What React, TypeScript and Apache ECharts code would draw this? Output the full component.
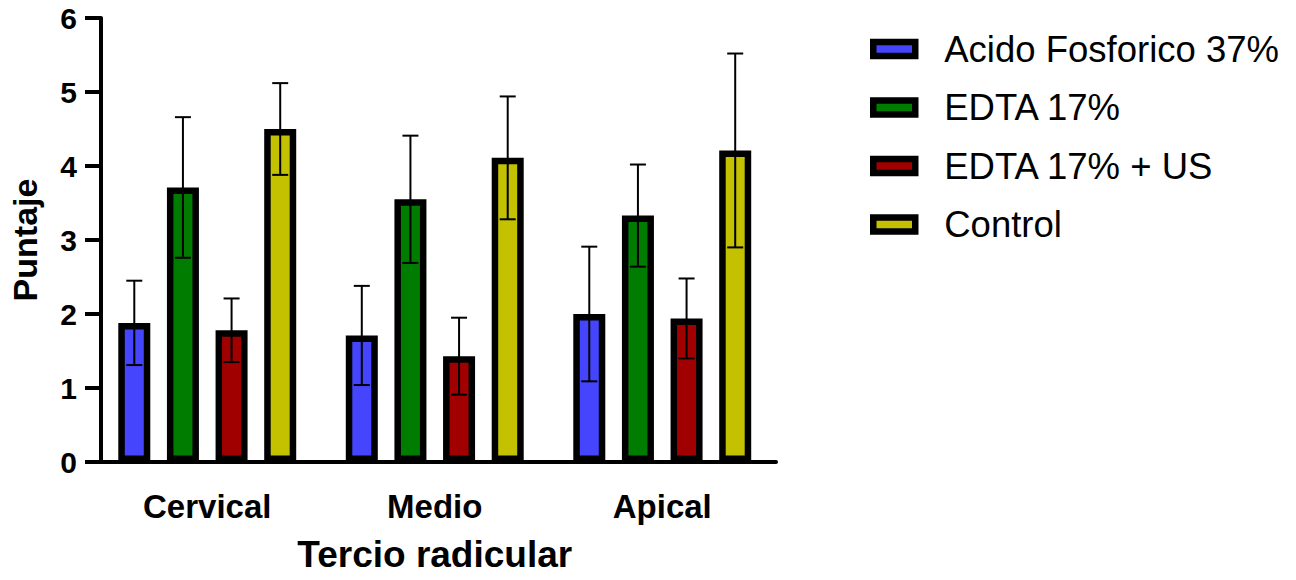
import React, { useEffect, useRef } from "react";
import * as echarts from "echarts";

const CATEGORIES = ["Cervical", "Medio", "Apical"];
const SERIES_NAMES = ["Acido Fosforico 37%", "EDTA 17%", "EDTA 17% + US", "Control"];
const COLORS = ["#4545fe", "#007c00", "#a00000", "#c3c100"];

const ACIDO_MEAN = [1.88, 1.71, 2.0];
const ACIDO_SD = [0.57, 0.67, 0.91];
const EDTA_MEAN = [3.71, 3.55, 3.33];
const EDTA_SD = [0.95, 0.86, 0.69];
const EDTA_US_MEAN = [1.78, 1.43, 1.94];
const EDTA_US_SD = [0.43, 0.52, 0.54];
const CONTROL_MEAN = [4.5, 4.11, 4.21];
const CONTROL_SD = [0.62, 0.83, 1.31];

const MEANS = [ACIDO_MEAN, EDTA_MEAN, EDTA_US_MEAN, CONTROL_MEAN];
const SDS = [ACIDO_SD, EDTA_SD, EDTA_US_SD, CONTROL_SD];

const Y_MIN = 0;
const Y_MAX = 6;
const Y_INTERVAL = 1;

const FONT = '"Liberation Sans", Arial, sans-serif';
const BAR_WIDTH = 32;
const BAR_GAP = 0.52;
const LEGEND_CENTERS = [49, 107.5, 166, 224.5];

export default function App() {
  const ref = useRef<HTMLDivElement>(null);

  useEffect(() => {
    if (!ref.current) return;
    const chart = echarts.init(ref.current, undefined, { renderer: "svg" });

    const barSeries = SERIES_NAMES.map((name, i) => ({
      name,
      type: "bar",
      data: MEANS[i],
      barWidth: BAR_WIDTH,
      barGap: BAR_GAP * 100 + "%",
      itemStyle: { color: COLORS[i], borderColor: "#000", borderWidth: 6.5 },
      z: 2,
    }));

    const errSeries = SERIES_NAMES.map((name, i) => ({
      name: name + " SD",
      type: "custom",
      z: 5,
      data: MEANS[i].map((m, c) => [c, m, SDS[i][c]]),
      encode: { x: 0, y: 1 },
      renderItem: (params: any, api: any) => {
        const c = api.value(0);
        const m = api.value(1);
        const s = api.value(2);
        const hi = api.coord([c, m + s]);
        const lo = api.coord([c, m - s]);
        const off = (i - 1.5) * BAR_WIDTH * (1 + BAR_GAP);
        const x = hi[0] + off;
        const st = { stroke: "#000", lineWidth: 2 };
        return {
          type: "group",
          children: [
            { type: "line", shape: { x1: x, y1: hi[1], x2: x, y2: lo[1] }, style: st },
            { type: "line", shape: { x1: x - 8, y1: hi[1], x2: x + 8, y2: hi[1] }, style: st },
            { type: "line", shape: { x1: x - 8, y1: lo[1], x2: x + 8, y2: lo[1] }, style: st },
          ],
        };
      },
    }));

    const legends = SERIES_NAMES.map((name, i) => ({
      data: [name],
      left: 870,
      top: LEGEND_CENTERS[i] - 20,
      padding: 0,
      orient: "vertical",
      icon: "rect",
      itemWidth: 42,
      itemHeight: 14,
      selectedMode: false,
      itemStyle: { borderColor: "#000", borderWidth: 6.5 },
      textStyle: {
        fontSize: 36.5,
        fontFamily: FONT,
        color: "#000",
        lineHeight: 40,
        padding: [0, 0, 0, 24],
      },
    }));

    chart.setOption({
      animation: false,
      backgroundColor: "#fff",
      grid: { left: 93.5, top: 18, width: 682.5, bottom: 118, containLabel: false },
      legend: legends,
      xAxis: {
        type: "category",
        data: CATEGORIES,
        boundaryGap: true,
        name: "Tercio radicular",
        nameLocation: "middle",
        nameGap: 74,
        nameTextStyle: { fontSize: 37, fontWeight: "bold", fontFamily: FONT, color: "#000", lineHeight: 37 },
        axisLine: { lineStyle: { color: "#000", width: 4 } },
        axisTick: { alignWithLabel: true, length: 16, lineStyle: { color: "#000", width: 4 } },
        axisLabel: { fontSize: 33, fontWeight: "bold", fontFamily: FONT, color: "#000", margin: 28, lineHeight: 33 },
        splitLine: { show: false },
      },
      yAxis: {
        type: "value",
        min: Y_MIN,
        max: Y_MAX,
        interval: Y_INTERVAL,
        offset: -7.5,
        name: "Puntaje",
        nameLocation: "middle",
        nameGap: 59,
        nameTextStyle: { fontSize: 34, fontWeight: "bold", fontFamily: FONT, color: "#000", lineHeight: 34 },
        axisLine: { show: true, lineStyle: { color: "#000", width: 4 } },
        axisTick: { show: true, length: 16, lineStyle: { color: "#000", width: 4 } },
        axisLabel: { fontSize: 30, fontWeight: "bold", fontFamily: FONT, color: "#000", margin: 24 },
        splitLine: { show: false },
      },
      series: [...barSeries, ...errSeries],
    });

    return () => chart.dispose();
  }, []);

  return (
    <div
      ref={ref}
      style={{ position: "fixed", left: 0, top: 0, width: 1296, height: 580, background: "#fff" }}
    />
  );
}
